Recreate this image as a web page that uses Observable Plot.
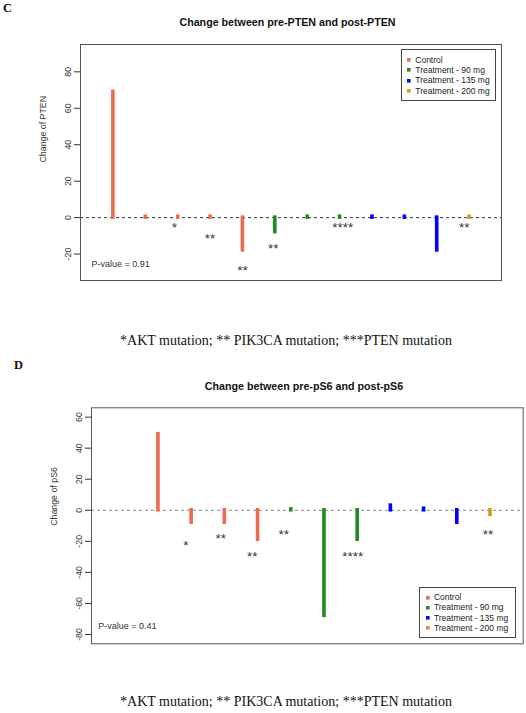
<!DOCTYPE html>
<html>
<head>
<meta charset="utf-8">
<script src="https://cdn.jsdelivr.net/npm/d3@7"></script>
<script src="https://cdn.jsdelivr.net/npm/@observablehq/plot@0.6"></script>
<style>
  html, body { margin: 0; padding: 0; background: #fff; }
  #page { position: relative; width: 526px; height: 713px; overflow: hidden; background: #fff; }
  .abs { position: absolute; }
  .panel-letter { font-family: "Liberation Serif", serif; font-weight: bold; font-size: 12.5px; color: #111; }
  .title { font-family: "Liberation Sans", Arial, sans-serif; font-weight: bold; font-size: 10.7px; color: #111; text-align: center; width: 400px; white-space: nowrap; }
  .foot { font-family: "Liberation Serif", "Times New Roman", serif; font-size: 14px; color: #111; text-align: center; width: 500px; white-space: nowrap; }
  .legbox { border: 1px solid #444; box-sizing: border-box; background: #fff; }
  .legbox > div { margin: 0 !important; min-height: 0 !important; font-family: "Liberation Sans", Arial, sans-serif !important; font-size: 8.5px !important; color: #222 !important; }
  .legbox .plot-swatch, .legbox [class$="-swatch"] { line-height: 10.3px !important; height: 10.3px; padding-bottom: 0 !important; }
  .legbox svg { margin-right: 4.5px !important; }
</style>
</head>
<body>
<div id="page"></div>
<script>
// ---------- shared ----------
const groups = ["Control", "Treatment - 90 mg", "Treatment - 135 mg", "Treatment - 200 mg"];
const groupColors = ["#EE6A50", "#228B22", "#0000FF", "#CD9B1D"];

// ---------- Panel C: PTEN ----------
const ptenTitle = "Change between pre-PTEN and post-PTEN";
const ptenYLabel = "Change of PTEN";
const ptenPatient = [1, 2, 3, 4, 5, 6, 7, 8, 9, 10, 11, 12];
const ptenGroup = ["Control", "Control", "Control", "Control", "Control",
  "Treatment - 90 mg", "Treatment - 90 mg", "Treatment - 90 mg",
  "Treatment - 135 mg", "Treatment - 135 mg", "Treatment - 135 mg",
  "Treatment - 200 mg"];
const ptenChange = [69, 0.5, 0.5, 0.5, -18, -8, 0.5, 0.5, 0.5, 0.5, -18, 0.5];
const ptenMarkX = [2.9, 4, 5, 5.95, 8.1, 11.85];
const ptenMarkY = [-3.7, -9.7, -27, -15, -3.7, -3.7];
const ptenMarkText = ["*", "**", "**", "**", "****", "**"];
const ptenTicks = [-20, 0, 20, 40, 60, 80];
const ptenPValue = "P-value = 0.91";

// ---------- Panel D: pS6 ----------
const ps6Title = "Change between pre-pS6 and post-pS6";
const ps6YLabel = "Change of pS6";
const ps6Patient = [2, 3, 4, 5, 6, 7, 8, 9, 10, 11, 12];
const ps6Group = ["Control", "Control", "Control", "Control",
  "Treatment - 90 mg", "Treatment - 90 mg", "Treatment - 90 mg",
  "Treatment - 135 mg", "Treatment - 135 mg", "Treatment - 135 mg",
  "Treatment - 200 mg"];
const ps6Change = [49, -8, -8, -19, 0.5, -68, -19, 3, 1, -8, -3];
const ps6MarkX = [2.84, 3.89, 4.84, 5.79, 7.87, 11.94];
const ps6MarkY = [-20.6, -16.3, -27.7, -13.7, -27.7, -13.7];
const ps6MarkText = ["*", "**", "**", "**", "****", "**"];
const ps6Ticks = [-80, -60, -40, -20, 0, 20, 40, 60];
const ps6PValue = "P-value = 0.41";

const footnote = "*AKT mutation; ** PIK3CA mutation; ***PTEN mutation";

// ---------- helpers ----------
const page = document.getElementById("page");
function place(el, left, top) {
  el.classList.add("abs");
  el.style.left = left + "px";
  el.style.top = top + "px";
  page.appendChild(el);
  return el;
}
function textDiv(cls, txt) {
  const d = document.createElement("div");
  d.className = cls;
  d.textContent = txt;
  return d;
}

function panel({patient, group, change, markX, markY, markText, ticks, yDomain, yLabel, pValue,
                height, marginTop, marginBottom, marginLeft, marginRight, labelDx, pDx, pDy, zeroStroke}) {
  const rows = patient.map((p, i) => ({patient: p, group: group[i], change: change[i]}));
  const marks = markX.map((x, i) => ({x, y: markY[i], text: markText[i]}));
  return Plot.plot({
    width: 526,
    height,
    marginTop, marginBottom, marginLeft, marginRight,
    style: {fontFamily: "'Liberation Sans', Arial, sans-serif", fontSize: "8.8px", background: "transparent", color: "#222"},
    x: {domain: [0, 13], axis: null},
    y: {domain: yDomain},
    color: {domain: groups, range: groupColors},
    marks: [
      Plot.axisY({ticks, tickFormat: (d) => String(d), tickRotate: -90, tickSize: 6, tickPadding: 3.5, label: null, stroke: "#333", fill: "#333"}),
      Plot.ruleY([0], {stroke: zeroStroke, strokeDasharray: "3,3", strokeWidth: 1}),
      Plot.ruleX(rows, {x: "patient", y1: 0, y2: "change", stroke: "group", strokeWidth: 3.6, strokeLinecap: "square"}),
      Plot.text(marks, {x: "x", y: "y", text: "text", fontSize: 13.5, dy: 3.5, fill: "#333"}),
      Plot.text([yLabel], {frameAnchor: "left", rotate: -90, dx: labelDx, fill: "#333", fontSize: 8.8}),
      Plot.text([pValue], {frameAnchor: "bottom-left", textAnchor: "start", dx: pDx, dy: pDy, fill: "#333", fontSize: 9}),
      Plot.frame({stroke: "#555", strokeWidth: 1})
    ]
  });
}

function legendBox(left, top, width, height) {
  const box = document.createElement("div");
  box.className = "legbox";
  box.style.width = width + "px";
  box.style.height = height + "px";
  box.style.padding = "4.5px 0 0 5.5px";
  const leg = Plot.legend({
    color: {domain: groups, range: groupColors},
    legend: "swatches",
    columns: 1,
    swatchSize: 3.6,
    swatchWidth: 3.6,
    swatchHeight: 3.6
  });
  box.appendChild(leg);
  place(box, left, top);
}

// ---------- Panel C ----------
place(textDiv("panel-letter", "C"), 3, 1);
place(textDiv("title", ptenTitle), 287.5 - 200, 16);
const svgC = panel({
  patient: ptenPatient, group: ptenGroup, change: ptenChange,
  markX: ptenMarkX, markY: ptenMarkY, markText: ptenMarkText,
  ticks: ptenTicks, yDomain: [-34.5, 95], yLabel: ptenYLabel, pValue: ptenPValue,
  height: 300, marginTop: 44, marginBottom: 20, marginLeft: 80, marginRight: 25,
  labelDx: -37, pDx: 11, pDy: -13.3, zeroStroke: "#333"
});
const wrapC = document.createElement("div");
wrapC.appendChild(svgC);
place(wrapC, 0, 0);
legendBox(400.7, 49.3, 95, 51.5);
place(textDiv("foot", footnote), 286 - 250, 333);

// ---------- Panel D ----------
place(textDiv("panel-letter", "D"), 14, 358);
place(textDiv("title", ps6Title), 304 - 200, 380);
const svgD = panel({
  patient: ps6Patient, group: ps6Group, change: ps6Change,
  markX: ps6MarkX, markY: ps6MarkY, markText: ps6MarkText,
  ticks: ps6Ticks, yDomain: [-86, 66], yLabel: ps6YLabel, pValue: ps6PValue,
  height: 280, marginTop: 27.3, marginBottom: 16.7, marginLeft: 91, marginRight: 3.3,
  labelDx: -37.7, pDx: 6.7, pDy: -14.6, zeroStroke: "#888"
});
const wrapD = document.createElement("div");
wrapD.appendChild(svgD);
place(wrapD, 0, 380);
legendBox(419.3, 586.7, 96.7, 51.6);
place(textDiv("foot", footnote), 286 - 250, 694);
</script>
</body>
</html>
